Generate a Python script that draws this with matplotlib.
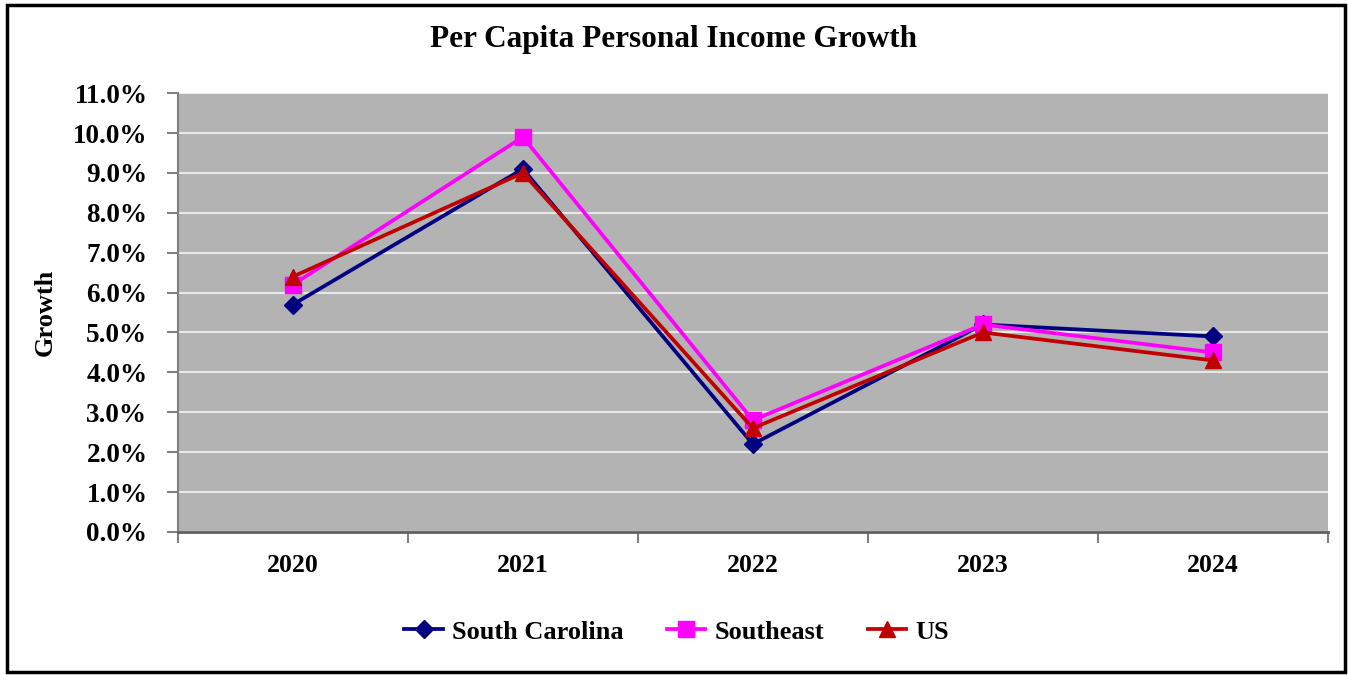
import matplotlib.pyplot as plt
from matplotlib.patches import Rectangle
from matplotlib.ticker import FixedLocator, PercentFormatter

years = ['2020', '2021', '2022', '2023', '2024']
south_carolina = [5.7, 9.1, 2.2, 5.2, 4.9]
southeast = [6.2, 9.9, 2.8, 5.2, 4.5]
us = [6.4, 9.0, 2.6, 5.0, 4.3]

plt.rcParams['font.family'] = ['Liberation Serif', 'DejaVu Serif']
plt.rcParams['font.weight'] = 'bold'
plt.rcParams['axes.labelweight'] = 'bold'

fig = plt.figure(figsize=(13.48, 6.75), dpi=100)
fig.add_artist(Rectangle((0.0055, 0.004), 0.9925, 0.9885, transform=fig.transFigure,
                         fill=False, edgecolor='black', linewidth=2.5))
ax = fig.add_axes([0.132, 0.212, 0.853, 0.650])
ax.set_facecolor('#B3B3B3')

x = range(len(years))
ax.plot(x, south_carolina, color='#000080', lw=2.7, marker='D', ms=9, label='South Carolina', zorder=3)
ax.plot(x, southeast, color='#FF00FF', lw=2.7, marker='s', ms=11, label='Southeast', zorder=4)
ax.plot(x, us, color='#C00000', lw=2.7, marker='^', ms=11, label='US', zorder=5)

ax.set_xlim(-0.5, 4.5)
ax.set_ylim(0, 11)
ax.set_yticks([i for i in range(12)])
ax.yaxis.set_major_formatter(PercentFormatter(decimals=1))
ax.grid(axis='y', color='#E8E8E8', lw=1.5)
ax.set_axisbelow(True)

ax.set_xticks(list(x))
ax.set_xticklabels(years)
ax.xaxis.set_minor_locator(FixedLocator([i - 0.5 for i in range(6)]))
ax.tick_params(axis='x', which='major', length=0, pad=16, labelsize=18.5)
ax.tick_params(axis='x', which='minor', length=8, width=1.5, color='#808080')
ax.tick_params(axis='y', length=8, width=1.5, color='#808080', pad=14, labelsize=19.5)

for s in ['top', 'right']:
    ax.spines[s].set_visible(False)
ax.spines['left'].set_color('#808080')
ax.spines['left'].set_linewidth(1.5)
ax.spines['bottom'].set_color('#606060')
ax.spines['bottom'].set_linewidth(2)

ax.set_ylabel('Growth', fontsize=19)
ax.yaxis.set_label_coords(-0.105, 0.5)
fig.text(0.500, 0.941, 'Per Capita Personal Income Growth', ha='center', va='center',
         fontsize=22.5, fontweight='bold')

fig.legend(loc='center', bbox_to_anchor=(0.502, 0.064), ncol=3, frameon=False,
           fontsize=19, handlelength=1.45, columnspacing=1.65, handletextpad=0.35)

fig.savefig('out.png', dpi=100)
